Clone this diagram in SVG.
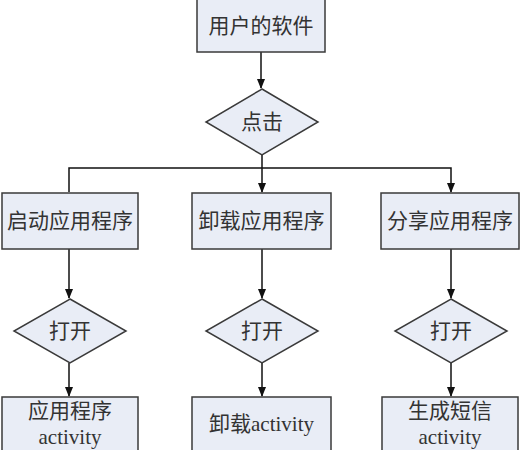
<svg xmlns="http://www.w3.org/2000/svg" width="520" height="450" viewBox="0 0 520 450">
<style>
.n{fill:#e9edf6;stroke:#3a3a3a;stroke-width:1.5}
.c{fill:none;stroke:#111;stroke-width:1.5}
.t{font-family:"Liberation Serif","Noto Sans CJK SC",serif;font-size:21px;fill:#333;text-anchor:middle;dominant-baseline:central}
</style>
<defs>
<marker id="a" markerWidth="10" markerHeight="10" refX="9" refY="5" orient="auto" markerUnits="userSpaceOnUse">
<path d="M0,1 L10,5 L0,9 Z" fill="#111"/>
</marker>
</defs>
<g id="edges">
<path class="c" d="M261,52 V88" marker-end="url(#a)"/>
<path class="c" d="M262,155 V192" marker-end="url(#a)"/>
<path class="c" d="M69,192 V168 H451 V192" marker-end="url(#a)"/>
<path class="c" d="M69,249 V298" marker-end="url(#a)"/>
<path class="c" d="M262,249 V298" marker-end="url(#a)"/>
<path class="c" d="M451,249 V298" marker-end="url(#a)"/>
<path class="c" d="M69,363 V396" marker-end="url(#a)"/>
<path class="c" d="M262,363 V396" marker-end="url(#a)"/>
<path class="c" d="M451,363 V396" marker-end="url(#a)"/>
</g>
<g id="top"><rect class="n" x="197" y="-2" width="128" height="54"/><text class="t" x="261" y="26">用户的软件</text></g>
<g id="click"><polygon class="n" points="262,89 318,122 262,155 206,122"/><text class="t" x="262" y="122">点击</text></g>
<g id="start"><rect class="n" x="2" y="193" width="136" height="56"/><text class="t" x="70" y="221">启动应用程序</text></g>
<g id="uninstall"><rect class="n" x="192" y="193" width="139" height="56"/><text class="t" x="261.5" y="221">卸载应用程序</text></g>
<g id="share"><rect class="n" x="381" y="193" width="138" height="56"/><text class="t" x="450" y="221">分享应用程序</text></g>
<g id="open1"><polygon class="n" points="70,299 126,331 70,363 14,331"/><text class="t" x="70" y="331">打开</text></g>
<g id="open2"><polygon class="n" points="262,299 318,331 262,363 206,331"/><text class="t" x="262" y="331">打开</text></g>
<g id="open3"><polygon class="n" points="451,299 507,331 451,363 395,331"/><text class="t" x="451" y="331">打开</text></g>
<g id="act1"><rect class="n" x="2" y="397" width="136" height="60"/><text class="t" x="70" y="411">应用程序</text><text class="t" x="70" y="437">activity</text></g>
<g id="act2"><rect class="n" x="192" y="397" width="139" height="60"/><text class="t" x="261.5" y="424">卸载activity</text></g>
<g id="act3"><rect class="n" x="382" y="397" width="136" height="60"/><text class="t" x="450" y="411">生成短信</text><text class="t" x="450" y="437">activity</text></g>
</svg>
